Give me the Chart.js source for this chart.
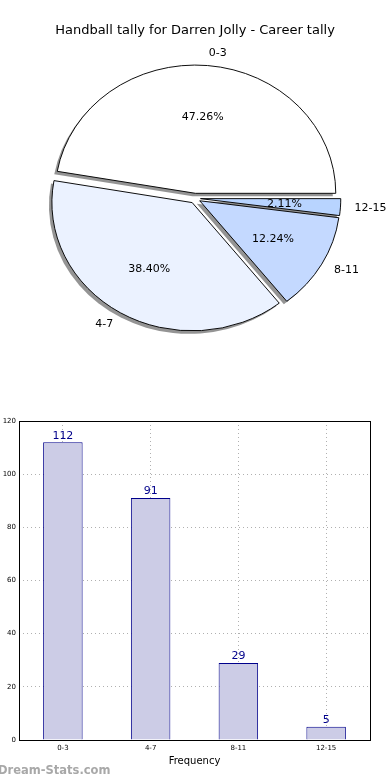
<!DOCTYPE html>
<html>
<head>
<meta charset="utf-8">
<script src="https://cdn.jsdelivr.net/npm/chart.js@4.4.0/dist/chart.umd.min.js"></script>
<style>
  body { margin: 0; background: #fff; width: 390px; height: 780px; overflow: hidden; position: relative; font-family: "DejaVu Sans", sans-serif; }
  #pieBox { position: absolute; left: 0; top: 0; width: 390px; height: 400px; }
  #barBox { position: absolute; left: 0; top: 410px; width: 390px; height: 370px; }
  #mark { position: absolute; left: -2px; top: 763px; font-size: 11.5px; font-weight: bold; color: #a8a8a8; }
</style>
</head>
<body>
<div id="pieBox"><canvas id="pie"></canvas></div>
<div id="barBox"><canvas id="bar"></canvas></div>
<div id="mark">Dream-Stats.com</div>
<script>
var categories = ['0-3', '4-7', '8-11', '12-15'];
var tally = [112, 91, 29, 5];
var sliceColors = ['#ffffff', '#ebf2ff', '#c4d9ff', '#b8d4ff'];
var yTicks = [0, 20, 40, 60, 80, 100, 120];

var total = tally.reduce(function(a, b) { return a + b; }, 0);

// matplotlib draws counterclockwise from 3 o'clock, chart.js clockwise, so reverse
var pieLabels = categories.slice().reverse();
var pieData = tally.slice().reverse();
var pieColors = sliceColors.slice().reverse();

// the original pie is a bit wider than tall
var stretchX = 1.094;
var explode = 5;

// exploded slices with a left-down shadow, like matplotlib's shadow=True
var baseArcDraw = Chart.ArcElement.prototype.draw;
Chart.ArcElement.prototype.draw = function(ctx) {
    var mid = (this.startAngle + this.endAngle) / 2;
    var x = this.x, y = this.y;
    ctx.save();
    ctx.translate(x, y);
    ctx.scale(stretchX, 1);
    ctx.translate(-x, -y);
    ctx.translate(Math.cos(mid) * explode, Math.sin(mid) * explode);
    ctx.save();
    ctx.fillStyle = 'rgba(0,0,0,0.42)';
    ctx.beginPath();
    ctx.moveTo(x - 2.7, y + 3);
    ctx.arc(x - 2.7, y + 3, this.outerRadius, this.startAngle, this.endAngle);
    ctx.closePath();
    ctx.fill();
    ctx.restore();
    baseArcDraw.call(this, ctx);
    ctx.restore();
};

var pieText = {
    id: 'pieText',
    afterDraw: function(chart) {
        var ctx = chart.ctx;
        var meta = chart.getDatasetMeta(0);
        ctx.save();
        ctx.font = '11px "DejaVu Sans"';
        ctx.fillStyle = '#000';
        ctx.textBaseline = 'middle';
        meta.data.forEach(function(arc, i) {
            var p = arc.getProps(['x', 'y', 'startAngle', 'endAngle', 'outerRadius']);
            var mid = (p.startAngle + p.endAngle) / 2;
            var cx = Math.cos(mid), cy = Math.sin(mid);
            var pct = (pieData[i] / total * 100).toFixed(2) + '%';
            var r1 = p.outerRadius * 0.6 + explode;
            var r2 = p.outerRadius * 1.1 + explode;
            ctx.textAlign = 'center';
            ctx.fillText(pct, p.x + cx * r1 * stretchX, p.y + cy * r1);
            ctx.textAlign = cx >= 0 ? 'left' : 'right';
            ctx.fillText(pieLabels[i], p.x + cx * r2 * stretchX, p.y + cy * r2);
        });
        ctx.restore();
    }
};

new Chart(document.getElementById('pie').getContext('2d'), {
    type: 'pie',
    data: {
        labels: pieLabels,
        datasets: [{
            data: pieData,
            backgroundColor: pieColors,
            borderColor: '#000',
            borderWidth: 0.9,
            hoverBorderWidth: 0.9,
            offset: 0,
            hoverOffset: 0
        }]
    },
    options: {
        responsive: true,
        maintainAspectRatio: false,
        animation: false,
        rotation: 90,
        layout: { padding: { top: 0, bottom: 73, left: 0, right: 0 } },
        plugins: {
            legend: { display: false },
            tooltip: { enabled: false },
            title: {
                display: true,
                text: 'Handball tally for Darren Jolly - Career tally',
                color: '#000',
                font: { family: 'DejaVu Sans', size: 13, weight: 'normal' },
                padding: { top: 23, bottom: 31 }
            }
        }
    },
    plugins: [pieText]
});

var barExtras = {
    id: 'barExtras',
    afterDatasetsDraw: function(chart) {
        var ctx = chart.ctx;
        var a = chart.chartArea;
        ctx.save();
        ctx.strokeStyle = '#000';
        ctx.lineWidth = 1;
        ctx.strokeRect(Math.round(a.left) + 0.5, Math.round(a.top) + 0.5, Math.round(a.right - a.left), Math.round(a.bottom - a.top));
        ctx.font = '11px "DejaVu Sans"';
        ctx.fillStyle = '#00008b';
        ctx.textAlign = 'center';
        ctx.textBaseline = 'bottom';
        chart.getDatasetMeta(0).data.forEach(function(bar, i) {
            ctx.fillText(String(tally[i]), bar.x, bar.y - 1);
        });
        ctx.restore();
    }
};

new Chart(document.getElementById('bar').getContext('2d'), {
    type: 'bar',
    data: {
        labels: categories,
        datasets: [{
            data: tally,
            backgroundColor: '#cccce6',
            borderColor: '#00008b',
            borderWidth: 1,
            barPercentage: 0.45,
            categoryPercentage: 1
        }]
    },
    options: {
        responsive: true,
        maintainAspectRatio: false,
        animation: false,
        layout: { padding: { top: 11, right: 20, left: 0, bottom: 13 } },
        plugins: { legend: { display: false }, tooltip: { enabled: false } },
        scales: {
            x: {
                grid: { offset: false, color: '#b0b0b0', drawTicks: false },
                border: { display: false, dash: [1, 3] },
                ticks: { color: '#000', font: { family: 'DejaVu Sans', size: 7 }, padding: 4 },
                title: { display: true, text: 'Frequency', color: '#000', font: { family: 'DejaVu Sans', size: 10 }, padding: { top: 2, bottom: 0 } },
                afterFit: function(s) { s.height = 27; }
            },
            y: {
                min: 0,
                max: 120,
                afterBuildTicks: function(s) { s.ticks = yTicks.map(function(v) { return { value: v }; }); },
                grid: { color: '#b0b0b0', drawTicks: false },
                border: { display: false, dash: [1, 3] },
                ticks: { color: '#000', font: { family: 'DejaVu Sans', size: 7 }, padding: 3 },
                afterFit: function(s) { s.width = 19; }
            }
        }
    },
    plugins: [barExtras]
});
</script>
</body>
</html>
